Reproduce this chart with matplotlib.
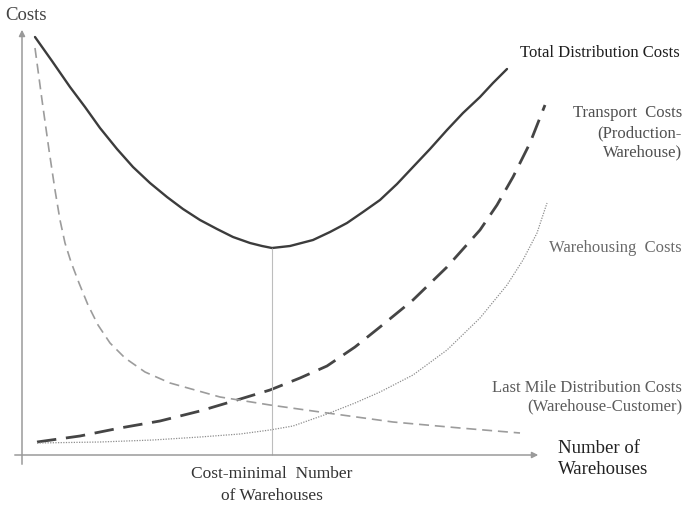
import numpy as np
import matplotlib
matplotlib.use("Agg")
import matplotlib.pyplot as plt

plt.rcParams['font.family'] = ['Liberation Serif', 'DejaVu Serif']

# Curves (x = number of warehouses, y = costs, arbitrary units)
total_x = [13, 30, 48, 63, 78, 95, 111, 128, 145, 161, 178, 195, 211, 228, 240, 250,
           268, 291, 308, 325, 341, 358, 375, 391, 408, 425, 441, 458, 471, 485]
total_y = [418, 394, 368, 348, 327, 306, 288, 272, 258, 246, 235, 226, 218, 212, 209, 207,
           209, 215, 223, 232, 243, 255, 271, 288, 306, 325, 342, 358, 372, 386]

lastmile_x = [13, 20, 27, 33, 38, 43, 49, 57, 66, 76, 88, 103, 123, 148, 198, 248, 298, 371, 438, 498]
lastmile_y = [407, 355, 305, 265, 235, 212, 193, 172, 150, 130, 112, 97, 83, 72, 58, 50, 43, 33, 27, 22]

transport_x = [15, 58, 98, 138, 178, 215, 248, 278, 305, 333, 358, 391, 425, 458, 475, 491, 508, 523]
transport_y = [13, 19, 27, 34, 44, 55, 65, 77, 89, 108, 128, 155, 188, 225, 250, 278, 312, 350]

warehousing_x = [15, 78, 131, 178, 218, 248, 271, 305, 333, 358, 391, 425, 458, 485, 501, 515, 525]
warehousing_y = [12, 13, 15, 18, 21, 25, 29, 41, 52, 63, 80, 105, 137, 170, 195, 222, 252]

# Text labels
labels = {
    "total": "Total Distribution Costs",
    "transport": "Transport  Costs\n(Production-\nWarehouse)",
    "warehousing": "Warehousing  Costs",
    "lastmile": "Last Mile Distribution Costs\n(Warehouse-Customer)",
    "xlabel": "Number of\nWarehouses",
    "ylabel": "Costs",
    "optimum": "Cost-minimal  Number\nof Warehouses",
}

fig = plt.figure(figsize=(6.87, 5.07), dpi=100)
ax = fig.add_axes([0, 0, 1, 1])
ax.set_xlim(-22, 665)
ax.set_ylim(-52, 455)
ax.axis('off')

# axes with arrows
ax.annotate('', xy=(519, 0), xytext=(-10, 0),
            arrowprops=dict(arrowstyle='-|>', color='#9a9a9a', lw=1.1, mutation_scale=9))
ax.annotate('', xy=(0, 428), xytext=(0, -12),
            arrowprops=dict(arrowstyle='-|>', color='#9a9a9a', lw=1.1, mutation_scale=9))

# curves
ax.plot(total_x, total_y, color='#3c3c3c', lw=1.7, solid_capstyle='round', solid_joinstyle='round')
ax.plot(transport_x, transport_y, color='#454545', lw=2.0, dashes=(7, 3.5))
ax.plot(lastmile_x, lastmile_y, color='#9c9c9c', lw=1.2, dashes=(6, 3.5))
ax.plot(warehousing_x, warehousing_y, color='#8e8e8e', lw=0.9, dashes=(1, 1.1))

# vertical line at the cost minimum
i_min = int(np.argmin(total_y))
ax.vlines(total_x[i_min], 0, total_y[i_min], color='#bdbdbd', lw=0.8)

# texts
ax.text(-17, 440, labels["ylabel"], fontsize=13.5, color='#444444', ha='left', va='center')
ax.text(658, 402, labels["total"], fontsize=12, color='#1e1e1e', ha='right', va='center')
ax.text(660, 322, labels["transport"], fontsize=12, color='#505050', ha='right', va='center',
        multialignment='right', linespacing=1.3)
ax.text(660, 207, labels["warehousing"], fontsize=12, color='#6a6a6a', ha='right', va='center')
ax.text(660, 58, labels["lastmile"], fontsize=12, color='#5c5c5c', ha='right', va='center',
        multialignment='right', linespacing=1.2)
ax.text(536, -4, labels["xlabel"], fontsize=13.5, color='#222222', ha='left', va='center',
        linespacing=1.3)
ax.text(total_x[i_min], -30, labels["optimum"], fontsize=12.5, color='#333333', ha='center',
        va='center', linespacing=1.45)

fig.savefig("out.png", dpi=100)
